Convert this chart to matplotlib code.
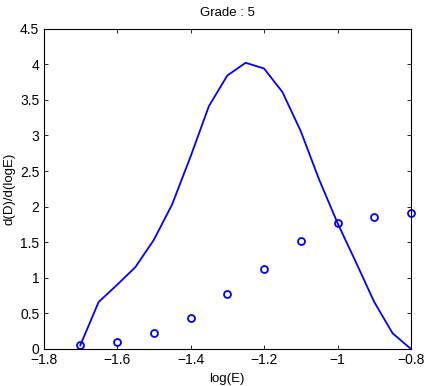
import matplotlib
matplotlib.use("Agg")
import matplotlib.pyplot as plt

line_x = [-1.70, -1.65, -1.60, -1.55, -1.50, -1.45, -1.40, -1.35, -1.30, -1.25,
          -1.20, -1.15, -1.10, -1.05, -1.00, -0.95, -0.90, -0.85, -0.80]
line_y = [0.05, 0.66, 0.90, 1.15, 1.53, 2.03, 2.70, 3.41, 3.84, 4.02,
          3.94, 3.61, 3.06, 2.38, 1.77, 1.22, 0.66, 0.22, 0.0]

pts_x = [-1.7, -1.6, -1.5, -1.4, -1.3, -1.2, -1.1, -1.0, -0.9, -0.8]
pts_y = [0.05, 0.10, 0.23, 0.43, 0.77, 1.13, 1.52, 1.77, 1.86, 1.91]

xticks = [-1.8, -1.6, -1.4, -1.2, -1.0, -0.8]
xticklabels = ["\u22121.8", "\u22121.6", "\u22121.4", "\u22121.2", "\u22121", "\u22120.8"]
yticks = [0, 0.5, 1, 1.5, 2, 2.5, 3, 3.5, 4, 4.5]
yticklabels = ["0", "0.5", "1", "1.5", "2", "2.5", "3", "3.5", "4", "4.5"]

plt.rcParams['font.family'] = ['Liberation Sans', 'DejaVu Sans']
fig = plt.figure(figsize=(4.25, 3.86), dpi=100)
ax = fig.add_axes([43.5/425, 37/386, 367.5/425, 320.4/386])
ax.plot(line_x, line_y, color=(0, 0, 1), lw=1.3)
ax.plot(pts_x, pts_y, 'o', mfc='none', mec=(0, 0, 1), ms=5, mew=1.3, clip_on=False)
ax.set_xlim(-1.8, -0.8)
ax.set_ylim(0, 4.5)
ax.set_xticks(xticks)
ax.set_xticklabels(xticklabels)
ax.set_yticks(yticks)
ax.set_yticklabels(yticklabels)
ax.tick_params(direction='in', top=True, right=True, labelsize=10, length=3, width=0.6, pad=3)
for s in ax.spines.values():
    s.set_linewidth(0.8)
ax.set_xlabel("log(E)", fontsize=9.5, labelpad=4)
ax.set_ylabel("d(D)/d(logE)", fontsize=9.5, labelpad=3)
ax.set_title("Grade : 5", fontsize=9.5, pad=9)
fig.savefig("out.png", dpi=100)
